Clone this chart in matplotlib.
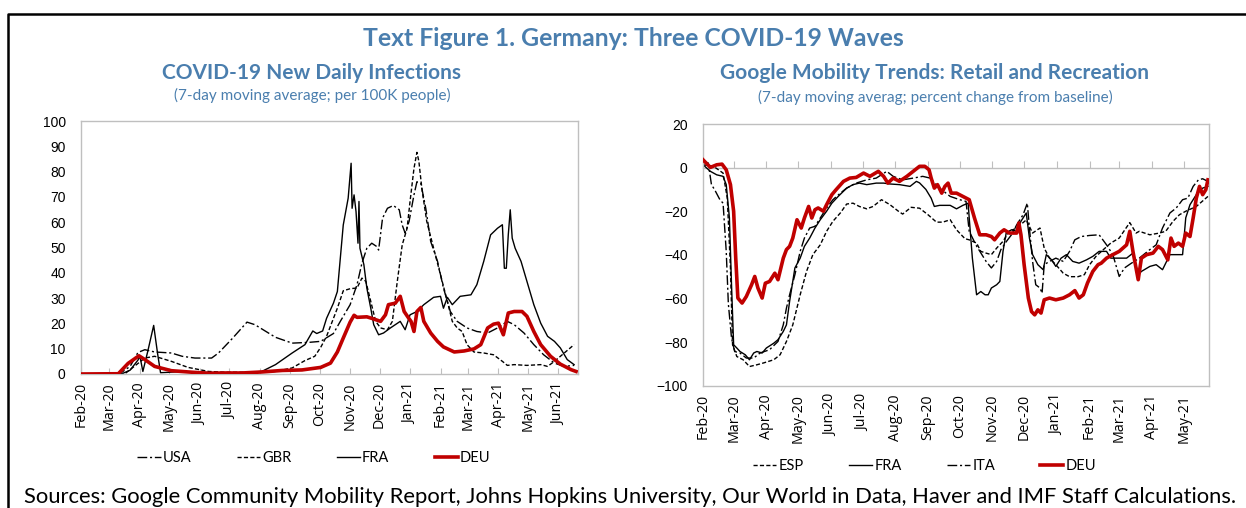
"""Germany: Three COVID-19 Waves -- infections and Google mobility (two panels)."""

import matplotlib

matplotlib.use("Agg")
import matplotlib.pyplot as plt
from matplotlib.lines import Line2D
import pandas as pd

# ---------------------------------------------------------------------------
# Data
# ---------------------------------------------------------------------------
# Left panel: new daily infections, 7-day MA per 100K; days since 1 Feb 2020
CASES_START = "2020-02-01"
CASES_END = "2021-06-21"

usa_inf_day = [0, 40, 50, 58, 65, 75, 92, 103, 116, 133, 140, 154, 169, 177, 198,
               215, 232, 244, 257, 264, 274, 281, 286, 291, 296, 301, 303, 307, 312,
               318, 324, 327, 330, 334, 339, 342, 346, 351, 356, 363, 369, 376, 383,
               393, 403, 414, 424, 434, 441, 451, 461, 471, 482, 492, 502]
usa_inf_val = [0, 0.3, 3.0, 8.5, 9.6, 8.7, 8.3, 7.0, 6.3, 6.3, 8.3, 14.0, 20.5, 19.5,
               14.5, 12.2, 12.5, 12.9, 16.0, 20.8, 27.4, 35.3, 43.8, 49.7, 51.7, 50.4,
               49.0, 61.6, 65.5, 66.6, 64.9, 58.9, 55.7, 60.3, 70.8, 76.0, 75.3, 65.5,
               52.4, 44.5, 34.0, 24.7, 20.8, 18.2, 16.8, 16.2, 18.2, 20.8, 19.5, 16.2,
               11.6, 7.6, 4.3, 3.0, 3.4]

gbr_inf_day = [0, 45, 65, 75, 92, 109, 130, 147, 184, 198, 215, 228, 238, 244, 250,
               261, 267, 274, 281, 286, 290, 295, 300, 305, 312, 317, 322, 327, 332,
               335, 339, 342, 344, 347, 352, 359, 366, 373, 378, 383, 388, 393, 400,
               410, 420, 429, 434, 441, 454, 468, 475, 482, 492, 502]
gbr_inf_val = [0, 0.2, 6.3, 7.0, 5.0, 2.6, 1.0, 0.7, 0.7, 1.0, 2.4, 5.3, 7.0, 10.5,
               14.9, 26.0, 32.9, 33.7, 34.0, 37.9, 36.6, 28.7, 20.8, 18.2, 17.5, 20.8,
               36.6, 51.0, 57.6, 68.2, 81.3, 87.6, 84.0, 73.4, 60.3, 49.7, 39.2, 28.7,
               20.8, 18.2, 16.8, 11.6, 8.7, 8.3, 7.6, 5.0, 3.4, 3.7, 3.4, 3.7, 3.0,
               5.0, 8.3, 11.6]

fra_inf_day = [0, 41, 50, 58, 60, 63, 68, 74, 78, 81, 100, 130, 164, 184, 198, 215,
               228, 236, 240, 246, 250, 257, 261, 267, 272, 275, 276, 278, 280, 282,
               283, 284, 288, 291, 295, 298, 303, 308, 315, 325, 330, 335, 342, 349,
               359, 366, 369, 373, 378, 386, 397, 403, 410, 417, 424, 429, 431, 433,
               435, 437, 439, 442, 448, 454, 461, 468, 475, 482, 488, 495, 502]
fra_inf_val = [0, 0, 1.5, 5.5, 7.0, 1.0, 9.0, 19.2, 8.0, 0.5, 0.9, 0.6, 0.5, 1.0,
               3.7, 8.3, 11.6, 17.0, 16.0, 17.0, 22.0, 28.0, 32.6, 58.9, 69.5, 83.3,
               65.5, 70.8, 64.2, 51.7, 68.2, 49.7, 43.2, 34.0, 26.0, 19.5, 15.5, 16.2,
               18.2, 20.8, 17.5, 23.4, 24.7, 27.4, 30.3, 30.7, 26.0, 30.3, 27.4, 30.7,
               31.3, 35.3, 44.5, 55.0, 57.6, 59.0, 41.8, 41.8, 55.0, 64.9, 53.7, 49.7,
               44.5, 36.6, 27.4, 20.1, 14.9, 12.9, 10.3, 5.7, 3.7]

deu_inf_day = [0, 38, 48, 59, 65, 75, 92, 113, 130, 147, 164, 184, 205, 225, 244,
               254, 261, 267, 274, 278, 281, 291, 296, 305, 310, 313, 320, 325, 329,
               333, 336, 339, 342, 346, 349, 356, 363, 369, 380, 390, 400, 407, 414,
               420, 425, 430, 435, 441, 449, 454, 461, 468, 478, 488, 499, 504]
deu_inf_val = [0, 0.1, 4.2, 7.2, 5.7, 3.0, 1.3, 0.7, 0.3, 0.4, 0.4, 0.8, 1.4, 1.6,
               2.6, 4.3, 8.7, 14.2, 20.5, 23.2, 22.4, 22.6, 22.0, 20.8, 23.4, 27.4,
               28.0, 30.7, 24.7, 22.4, 20.8, 16.8, 24.7, 26.3, 20.8, 16.2, 12.9, 10.7,
               8.7, 9.1, 9.9, 11.6, 18.2, 19.7, 20.1, 15.5, 24.1, 24.7, 24.7, 22.8,
               16.8, 11.6, 7.0, 3.9, 1.7, 1.0]

# Right panel: retail & recreation mobility, % vs baseline; days since 15 Feb 2020
MOB_START = "2020-02-15"
MOB_END = "2021-06-08"

esp_mob_day = [0, 10, 19, 23, 26, 28, 32, 38, 44, 51, 57, 67, 73, 79, 85, 92, 98,
               104, 111, 117, 123, 130, 136, 142, 148, 155, 161, 169, 177, 185, 189,
               197, 205, 213, 221, 227, 234, 240, 248, 252, 259, 263, 268, 273, 278,
               284, 290, 297, 301, 306, 312, 319, 323, 328, 334, 341, 347, 355, 361,
               366, 372, 379, 386, 394, 404, 410, 413, 423, 432, 438, 445, 451, 457,
               467, 478]
esp_mob_val = [1.3, 0.6, -2.5, -14.0, -46.0, -81.2, -86.6, -88.1, -91.2, -90.4,
               -89.6, -88.1, -85.8, -79.7, -72.1, -58.3, -47.6, -39.9, -35.4, -29.2,
               -24.6, -20.8, -16.7, -16.3, -17.8, -18.9, -17.8, -14.7, -17.0, -20.0,
               -21.3, -18.2, -18.6, -21.6, -25.0, -25.0, -23.9, -28.5, -32.6, -33.1,
               -34.6, -38.4, -39.2, -39.9, -36.9, -33.8, -29.2, -27.7, -26.0, -24.0,
               -30.0, -27.7, -36.9, -41.5, -44.5, -48.4, -50.0, -50.0, -49.1, -44.5,
               -40.7, -37.6, -34.6, -32.3, -25.2, -30.0, -29.2, -30.8, -30.0, -29.2,
               -24.6, -21.6, -20.0, -17.8, -13.2]

fra_mob_day = [0, 7, 13, 19, 22, 25, 27, 29, 32, 35, 40, 44, 48, 51, 56, 60, 67, 71,
               76, 79, 82, 87, 92, 96, 101, 106, 111, 117, 122, 128, 136, 142, 148,
               155, 164, 171, 177, 186, 196, 202, 205, 211, 216, 219, 224, 234, 240,
               246, 251, 252, 255, 259, 263, 267, 270, 273, 278, 281, 284, 287, 292,
               297, 301, 306, 309, 312, 317, 322, 325, 330, 334, 339, 344, 350, 356,
               363, 369, 375, 382, 386, 394, 401, 407, 412, 415, 423, 429, 435, 442,
               448, 454, 457, 461, 467, 473, 478]
fra_mob_val = [1.3, -1.7, -3.3, -4.0, -7.8, -23.0, -53.7, -81.2, -82.7, -84.3, -85.8,
               -88.1, -85.0, -84.3, -85.0, -82.7, -80.5, -78.9, -75.1, -72.1, -61.3,
               -46.0, -41.5, -36.1, -32.3, -27.7, -23.9, -20.0, -16.3, -13.2, -9.4,
               -7.8, -7.1, -7.8, -7.1, -7.1, -7.5, -7.8, -8.6, -6.3, -7.0, -10.0,
               -14.0, -17.8, -17.3, -17.3, -18.9, -17.3, -16.3, -23.0, -41.5, -58.3,
               -56.8, -58.3, -58.3, -55.2, -53.7, -52.2, -38.4, -30.0, -28.5, -29.2,
               -24.6, -20.8, -32.3, -39.9, -44.5, -46.8, -39.9, -42.3, -45.3, -41.5,
               -39.9, -43.0, -43.8, -42.3, -40.7, -38.4, -38.4, -41.5, -41.5, -41.5,
               -39.2, -49.1, -47.6, -45.3, -44.5, -46.8, -39.9, -39.9, -39.9, -23.0,
               -17.0, -12.4, -9.4, -8.6]

ita_mob_day = [0, 5, 8, 11, 16, 19, 22, 24, 27, 30, 35, 41, 48, 54, 63, 71, 76, 79,
               82, 87, 92, 96, 101, 106, 111, 117, 123, 130, 136, 145, 155, 164, 174,
               180, 189, 199, 208, 215, 224, 234, 243, 249, 252, 259, 268, 273, 278,
               282, 287, 292, 297, 303, 307, 309, 312, 315, 319, 321, 323, 328, 334,
               341, 347, 352, 358, 366, 375, 382, 388, 394, 399, 405, 413, 423, 429,
               435, 442, 448, 454, 459, 464, 469, 473, 478]
ita_mob_val = [2.9, 2.1, -7.8, -10.1, -14.7, -16.3, -38.4, -62.4, -78.2, -84.3, -85.0,
               -87.3, -87.3, -85.0, -83.5, -79.7, -72.1, -64.4, -58.3, -49.1, -38.4,
               -32.3, -27.7, -26.9, -23.1, -18.5, -14.7, -11.7, -9.4, -7.1, -5.6, -4.8,
               -1.7, -4.0, -5.6, -4.8, -4.0, -4.8, -9.4, -13.2, -14.7, -15.5, -29.2,
               -36.0, -43.0, -46.0, -43.0, -37.6, -34.0, -30.8, -26.2, -21.6, -16.3,
               -27.7, -43.0, -53.7, -55.2, -57.6, -44.5, -43.0, -41.5, -43.0, -38.4,
               -33.1, -31.6, -31.1, -30.8, -35.4, -39.9, -49.9, -46.0, -44.0, -41.5,
               -37.6, -35.4, -27.7, -20.8, -18.5, -14.7, -14.0, -8.6, -5.6, -5.1, -6.3]

deu_mob_day = [0, 7, 13, 18, 22, 26, 29, 31, 33, 37, 41, 46, 49, 52, 56, 59, 63, 68,
               71, 76, 79, 82, 85, 89, 93, 96, 100, 103, 106, 109, 114, 117, 122, 126,
               133, 139, 145, 152, 158, 166, 171, 175, 180, 186, 193, 199, 205, 210,
               214, 216, 219, 222, 226, 229, 232, 235, 240, 246, 252, 257, 262, 268,
               273, 276, 281, 285, 290, 297, 299, 301, 304, 308, 311, 314, 317, 320,
               323, 328, 334, 341, 347, 352, 356, 360, 364, 369, 374, 377, 382, 388,
               394, 401, 404, 407, 412, 415, 420, 426, 431, 435, 440, 443, 446, 450,
               454, 457, 461, 464, 467, 470, 473, 476, 478]
deu_mob_val = [3.6, 0.1, 1.3, 1.6, -1.0, -7.8, -20.0, -41.5, -59.8, -62.1, -59.1,
               -53.7, -49.9, -55.2, -59.8, -53.0, -52.2, -48.4, -51.4, -41.5, -37.6,
               -36.1, -32.3, -23.9, -27.7, -23.1, -17.8, -23.1, -19.3, -18.5, -20.0,
               -17.0, -12.4, -10.1, -6.3, -4.8, -4.5, -2.5, -4.0, -1.7, -4.0, -7.1,
               -4.8, -6.3, -4.0, -1.7, 0.6, 0.6, -1.0, -4.8, -9.4, -7.8, -11.7, -8.6,
               -7.1, -11.7, -11.7, -13.2, -14.7, -23.1, -30.8, -30.8, -31.6, -33.1,
               -30.0, -28.5, -30.0, -30.0, -25.4, -30.8, -44.5, -59.8, -66.0, -67.5,
               -65.2, -66.7, -60.6, -59.8, -60.6, -59.8, -58.3, -56.4, -59.8, -58.3,
               -52.9, -47.6, -44.5, -43.8, -41.5, -39.9, -38.4, -35.4, -29.2, -38.4,
               -51.4, -41.5, -39.9, -39.2, -36.1, -37.6, -42.3, -32.3, -36.1, -34.6,
               -36.1, -30.0, -31.6, -23.1, -14.0, -8.6, -12.4, -10.1, -5.6]

TITLE = "Text Figure 1. Germany: Three COVID-19 Waves"
LEFT_TITLE = "COVID-19 New Daily Infections"
LEFT_NOTE = "(7-day moving average; per 100K people)"
RIGHT_TITLE = "Google Mobility Trends: Retail and Recreation"
RIGHT_NOTE = "(7-day moving averag; percent change from baseline)"
SOURCES = ("Sources: Google Community Mobility Report, Johns Hopkins University, "
           "Our World in Data, Haver and IMF Staff Calculations.")

# ---------------------------------------------------------------------------
# Styling
# ---------------------------------------------------------------------------
BLUE = "#4A7EAE"
RED = "#C00000"
GREY = "#BFBFBF"
TEXT_FONT = ["Lato", "DejaVu Sans"]
DATE_FONT = ["Open Sans", "DejaVu Sans"]
TICK_FONT = ["Liberation Sans", "DejaVu Sans"]

DASHED = (0, (3, 1.6))
DASHDOT = (0, (7, 2, 1.5, 2))


def _dates(start: str, days: list[float]):
    return (pd.Timestamp(start) + pd.to_timedelta(days, unit="D")).to_numpy()


def _style_axes(ax) -> None:
    for sp in ax.spines.values():
        sp.set_color(GREY)
        sp.set_linewidth(1.0)
    ax.tick_params(axis="y", length=0, pad=11, labelsize=10)
    for lab in ax.get_yticklabels():
        lab.set_family(TICK_FONT)


def _legend(ax, handles, labels, x, y) -> None:
    ax.legend(handles, labels, loc="center", bbox_to_anchor=(x, y),
              bbox_transform=ax.figure.transFigure, ncol=4, frameon=False,
              handlelength=1.6, handletextpad=0.15, columnspacing=3.1,
              prop={"family": TEXT_FONT, "size": 10.5})


def main() -> None:
    fig = plt.figure(figsize=(12.46, 5.08), dpi=100)

    # ---- left panel ------------------------------------------------------
    ax1 = fig.add_axes([0.065, 0.2638, 0.3989, 0.498])
    l_usa, = ax1.plot(_dates(CASES_START, usa_inf_day), usa_inf_val, color="black",
                      lw=1.0, ls=DASHDOT)
    l_gbr, = ax1.plot(_dates(CASES_START, gbr_inf_day), gbr_inf_val, color="black",
                      lw=1.0, ls=DASHED)
    l_fra, = ax1.plot(_dates(CASES_START, fra_inf_day), fra_inf_val, color="black",
                      lw=1.0)
    l_deu, = ax1.plot(_dates(CASES_START, deu_inf_day), deu_inf_val, color=RED,
                      lw=2.6, zorder=5)
    ax1.set_xlim(pd.Timestamp(CASES_START), pd.Timestamp(CASES_END))
    ax1.set_ylim(0, 100)
    ax1.set_yticks(range(0, 101, 10))
    ticks1 = pd.date_range(CASES_START, "2021-06-01", freq="MS")
    ax1.set_xticks(ticks1, labels=[d.strftime("%b-%y") for d in ticks1],
                   rotation=90, family=DATE_FONT, fontsize=10.3)
    ax1.tick_params(axis="x", direction="in", length=4, color=GREY, pad=6)
    _style_axes(ax1)
    _legend(ax1, [l_usa, l_gbr, l_fra, l_deu], ["USA", "GBR", "FRA", "DEU"],
            0.252, 0.098)

    # ---- right panel -----------------------------------------------------
    ax2 = fig.add_axes([0.5642, 0.2407, 0.4061, 0.5152])
    r_esp, = ax2.plot(_dates(MOB_START, esp_mob_day), esp_mob_val, color="black",
                      lw=1.0, ls=DASHED)
    r_fra, = ax2.plot(_dates(MOB_START, fra_mob_day), fra_mob_val, color="black",
                      lw=1.0)
    r_ita, = ax2.plot(_dates(MOB_START, ita_mob_day), ita_mob_val, color="black",
                      lw=1.0, ls=DASHDOT)
    r_deu, = ax2.plot(_dates(MOB_START, deu_mob_day), deu_mob_val, color=RED,
                      lw=2.6, zorder=5)
    ax2.set_xlim(pd.Timestamp(MOB_START), pd.Timestamp(MOB_END))
    ax2.set_ylim(-100, 20)
    ax2.set_yticks(range(-100, 21, 20))
    ticks2 = pd.date_range(MOB_START, "2021-05-15", freq="MS") + pd.Timedelta(days=14)
    ticks2 = ticks2.insert(0, pd.Timestamp(MOB_START))
    ax2.set_xticks(ticks2, labels=[d.strftime("%b-%y") for d in ticks2],
                   rotation=90, family=DATE_FONT, fontsize=10.3)
    ax2.tick_params(axis="x", length=0, pad=6)
    _style_axes(ax2)

    # horizontal axis crossing at zero, tick marks pointing up
    zero_ax = ax2.secondary_xaxis(0, transform=ax2.transData)
    zero_ax.set_xticks(ax2.get_xticks())
    zero_ax.tick_params(axis="x", direction="in", length=5, color=GREY,
                        labelbottom=False, labeltop=False)
    for sp in zero_ax.spines.values():
        sp.set_color(GREY)
        sp.set_linewidth(1.0)

    _legend(ax2, [r_esp, r_fra, r_ita, r_deu], ["ESP", "FRA", "ITA", "DEU"],
            0.742, 0.083)

    # ---- titles, sources and outer frame --------------------------------
    fig.text(0.508, 0.925, TITLE, ha="center", va="center", color=BLUE,
             fontsize=17.8, fontweight="bold", family=TEXT_FONT)
    fig.text(0.2504, 0.856, LEFT_TITLE, ha="center", va="center", color=BLUE,
             fontsize=15, fontweight="bold", family=TEXT_FONT)
    fig.text(0.2504, 0.813, LEFT_NOTE, ha="center", va="center", color=BLUE,
             fontsize=11, family=TEXT_FONT)
    fig.text(0.7504, 0.856, RIGHT_TITLE, ha="center", va="center", color=BLUE,
             fontsize=15, fontweight="bold", family=TEXT_FONT)
    fig.text(0.7504, 0.809, RIGHT_NOTE, ha="center", va="center", color=BLUE,
             fontsize=11, family=TEXT_FONT)
    fig.text(0.0193, 0.022, SOURCES, ha="left", va="center", color="black",
             fontsize=15.8, family=TEXT_FONT)

    fig.add_artist(Line2D([0.0064, 0.0064, 1.0], [0.0, 0.9724, 0.9724],
                          transform=fig.transFigure, color="black", lw=1.8))

    fig.savefig("out.png", dpi=100)
    plt.close(fig)


if __name__ == "__main__":
    main()
